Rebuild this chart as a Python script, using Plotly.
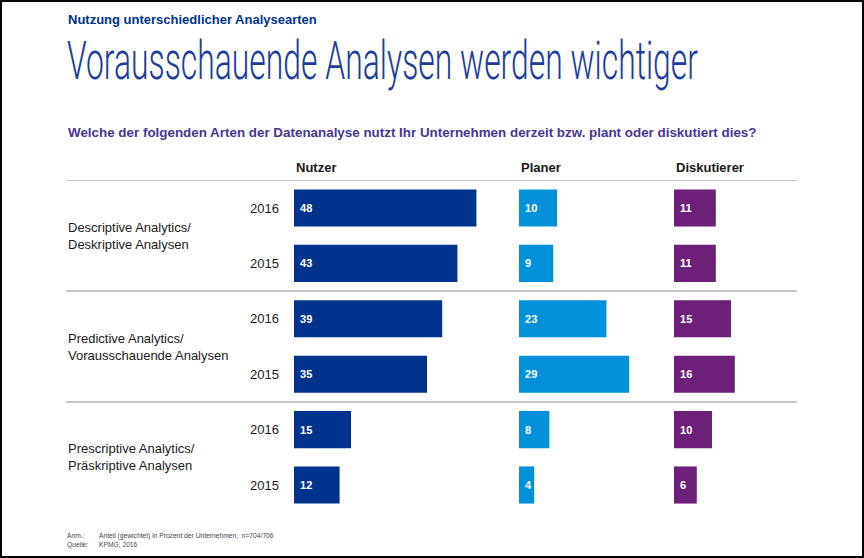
import plotly.graph_objects as go

# ---------------- data ----------------
groups = ["Descriptive Analytics/<br>Deskriptive Analysen",
          "Predictive Analytics/<br>Vorausschauende Analysen",
          "Prescriptive Analytics/<br>Präskriptive Analysen"]
categories = ["D-2016", "D-2015", "P-2016", "P-2015", "R-2016", "R-2015"]
tick_labels = ["2016", "2015", "2016", "2015", "2016", "2015"]

series_names = ["Nutzer", "Planer", "Diskutierer"]
nutzer = [48, 43, 39, 35, 15, 12]
planer = [10, 9, 23, 29, 8, 4]
diskutierer = [11, 11, 15, 16, 10, 6]

title_small = "Nutzung unterschiedlicher Analysearten"
title_big = "Vorausschauende Analysen werden wichtiger"
question = "Welche der folgenden Arten der Datenanalyse nutzt Ihr Unternehmen derzeit bzw. plant oder diskutiert dies?"
note_label = "Anm.:"
note_text = "Anteil (gewichtet) in Prozent der Unternehmen,  n=704/706"
source_label = "Quelle:"
source_text = "KPMG, 2016"

# ---------------- styling ----------------
W, H = 864, 558
colors = ["#00338D", "#0091DA", "#6D2077"]
PX_PER_UNIT = 3.8
col_px = [(294, 494), (519, 669), (674, 797)]
FONT = "Liberation Sans, Arial, sans-serif"

def px(x):
    return x / W

def py(y):
    return 1 - y / H

fig = go.Figure()
values = [nutzer, planer, diskutierer]
axes = ["x", "x2", "x3"]
for name, vals, col, ax in zip(series_names, values, colors, axes):
    fig.add_trace(go.Bar(
        name=name, orientation="h",
        y=categories, x=vals,
        xaxis=ax, yaxis="y",
        marker=dict(color=col, line=dict(width=0)),
        text=["\u00a0" + str(v) for v in vals],
        textposition="inside", insidetextanchor="start",
        constraintext="none",
        textfont=dict(family=FONT, size=11, color="white", weight="bold"),
        hoverinfo="skip", showlegend=False,
    ))

layout_axes = {}
for i, (a, b) in enumerate(col_px):
    key = "xaxis" if i == 0 else f"xaxis{i+1}"
    layout_axes[key] = dict(
        domain=[px(a), px(b)], range=[0, (b - a) / PX_PER_UNIT],
        anchor="y", visible=False, fixedrange=True,
    )

y_top, y_bot = 180.3, 512.7
fig.update_layout(
    width=W, height=H,
    margin=dict(l=0, r=0, t=0, b=0),
    paper_bgcolor="white", plot_bgcolor="white",
    bargap=0.33,
    yaxis=dict(
        domain=[py(y_bot), py(y_top)],
        categoryorder="array", categoryarray=categories,
        range=[5.5, -0.5],
        tickvals=categories, ticktext=tick_labels,
        ticks="", showgrid=False, zeroline=False, showline=False,
        tickfont=dict(family=FONT, size=13, color="#1a1a1a"),
        ticklabelstandoff=14,
        anchor="x",
    ),
    **layout_axes,
)

ann = []
# titles
ann.append(dict(text=f"<b>{title_small}</b>", x=px(66), y=py(19), xref="paper", yref="paper",
                xanchor="left", yanchor="middle", showarrow=False,
                font=dict(family=FONT, size=13, color="#00338D")))
ann.append(dict(text=title_big, x=px(65), y=py(61), xref="paper", yref="paper",
                xanchor="left", yanchor="middle", showarrow=False,
                font=dict(family="Roboto, Liberation Sans, sans-serif", size=54, color="#1E3C9C", weight=300)))
ann.append(dict(text=f"<b>{question}</b>", x=px(66), y=py(133), xref="paper", yref="paper",
                xanchor="left", yanchor="middle", showarrow=False,
                font=dict(family=FONT, size=13.4, color="#483698")))
# column headers
for i, name in enumerate(series_names):
    xr = "x domain" if i == 0 else f"x{i+1} domain"
    ann.append(dict(text=f"<b>{name}</b>", x=0, y=py(168), xref=xr, yref="paper",
                    xanchor="left", yanchor="middle", showarrow=False,
                    font=dict(family=FONT, size=13, color="#1a1a1a")))
# group labels
for gi, g in enumerate(groups):
    ann.append(dict(text=g, x=px(66), y=gi * 2 + 0.5, xref="paper", yref="y",
                    xanchor="left", yanchor="middle", align="left", showarrow=False,
                    font=dict(family=FONT, size=13, color="#1a1a1a")))
# footnotes
foot_font = dict(family=FONT, size=6.7, color="#444444")
for lbl, txt, yy in [(note_label, note_text, 535.5), (source_label, source_text, 544.5)]:
    ann.append(dict(text=lbl, x=px(65), y=py(yy), xref="paper", yref="paper",
                    xanchor="left", yanchor="middle", showarrow=False, font=foot_font))
    ann.append(dict(text=txt, x=px(97), y=py(yy), xref="paper", yref="paper",
                    xanchor="left", yanchor="middle", showarrow=False, font=foot_font))
fig.update_layout(annotations=ann)

shapes = []
for yv in [-0.5, 1.5, 3.5]:
    shapes.append(dict(type="line", xref="paper", yref="y", x0=px(66), x1=px(797), y0=yv, y1=yv,
                       line=dict(color="#b4b4b4", width=1.5)))
shapes.append(dict(type="rect", xref="paper", yref="paper", x0=0, x1=1, y0=0, y1=1,
                   line=dict(color="black", width=4)))
fig.update_layout(shapes=shapes)

# Condense the headline glyphs horizontally (the reference uses a narrow display font)
post = """
(function(){
  var TARGET = 631;
  function fit(){
    document.querySelectorAll('g.annotation').forEach(function(g){
      var t = g.querySelector('text.annotation-text');
      if (!t || t.textContent.indexOf('Vorausschauende Analysen werden') !== 0) return;
      if (t.getAttribute('data-fit') === '1') return;
      var w0 = t.getComputedTextLength();
      var anchor = t.getAttribute('text-anchor') || 'middle';
      var x = parseFloat(t.getAttribute('x')) || 0;
      var left = anchor === 'middle' ? x - w0 / 2 : (anchor === 'end' ? x - w0 : x);
      t.setAttribute('text-anchor', 'start');
      t.setAttribute('x', left);
      t.setAttribute('textLength', TARGET);
      t.setAttribute('lengthAdjust', 'spacingAndGlyphs');
      t.setAttribute('data-fit', '1');
      var bg = g.querySelector('rect.bg');
      if (bg) { bg.setAttribute('width', TARGET + 2 * left); }
    });
  }
  fit();
  setTimeout(fit, 30);
})();
"""
fig.write_html("out.html", post_script=post)
